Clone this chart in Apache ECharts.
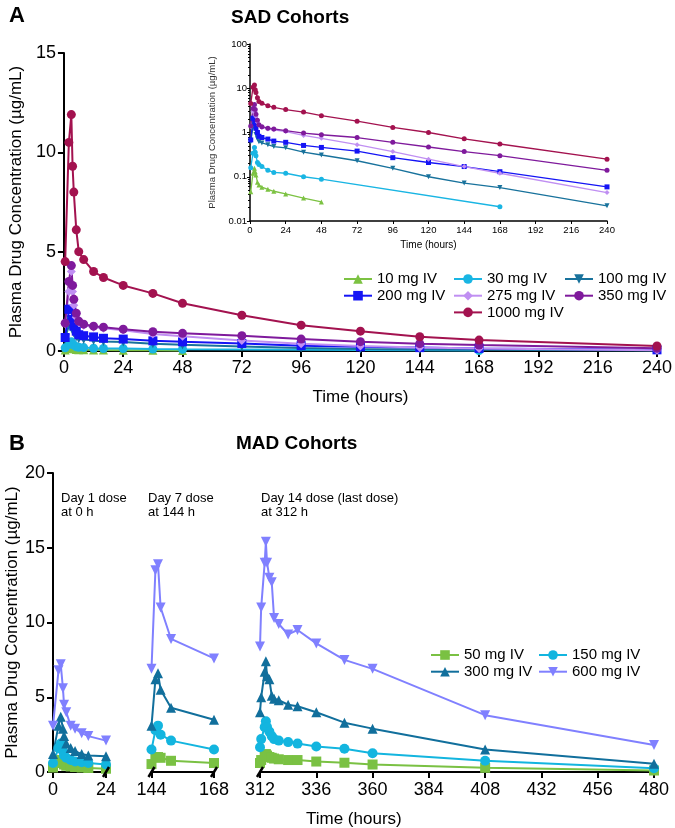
<!DOCTYPE html>
<html>
<head>
<meta charset="utf-8">
<script src="https://cdn.jsdelivr.net/npm/echarts@6/dist/echarts.min.js"></script>
<style>
  html, body { margin: 0; padding: 0; background: #fff; }
  #chart { width: 675px; height: 828px; }
</style>
</head>
<body>
<div id="chart"></div>
<script>
// ---- SAD cohorts (panel A), hours after dose ----
var sadTimes = [0.5, 2, 3, 3.5, 4, 5, 6, 8, 12, 16, 24, 36, 48, 72, 96, 120, 144, 168, 240];
var sad10   = [0.046, 0.12, 0.155, 0.13, 0.11, 0.075, 0.065, 0.058, 0.052, 0.047, 0.041, 0.033, 0.027, null, null, null, null, null, null];
var sad30   = [0.16, 0.34, 0.46, 0.36, 0.30, 0.21, 0.19, 0.17, 0.14, 0.125, 0.12, 0.10, 0.088, null, null, null, null, 0.021, null];
var sad100  = [0.62, 1.3, 1.5, 1.2, 0.9, 0.72, 0.62, 0.58, 0.53, 0.48, 0.45, 0.36, 0.31, 0.23, 0.155, 0.10, 0.072, 0.057, 0.022];
var sad200  = [0.68, 2.1, 2.1, 1.6, 1.25, 1.0, 0.82, 0.77, 0.71, 0.64, 0.60, 0.51, 0.46, 0.38, 0.27, 0.21, 0.17, 0.13, 0.059];
var sad275  = [1.37, 3.0, 4.0, 3.0, 2.3, 1.7, 1.45, 1.3, 1.2, 1.15, 1.05, 0.86, 0.74, 0.53, 0.37, 0.25, 0.17, 0.12, 0.044];
var sad350  = [1.4, 3.5, 4.3, 3.3, 2.6, 1.9, 1.5, 1.35, 1.25, 1.2, 1.1, 0.97, 0.89, 0.77, 0.60, 0.47, 0.37, 0.30, 0.14];
var sad1000 = [4.5, 10.5, 11.9, 9.3, 8.0, 6.1, 5.0, 4.6, 4.0, 3.7, 3.3, 2.9, 2.4, 1.8, 1.3, 1.0, 0.72, 0.55, 0.25];

// ---- MAD cohorts (panel B), three dosing windows ----
var madTimes1 = [0, 2.5, 3.5, 4.5, 5, 6, 8, 10, 13, 16, 24];
var madTimes2 = [144, 145.5, 146.5, 147.5, 151.5, 168];
var madTimes3 = [312, 312.5, 314, 314.5, 315, 316, 317, 318, 320, 324, 328, 336, 348, 360, 408, 480];

var mad50  = [[0.3, 0.65, 0.8, 0.6, 0.5, 0.42, 0.37, 0.33, 0.3, 0.27, 0.22],
              [0.53, 1.0, 1.0, 0.95, 0.75, 0.6],
              [0.6, 0.8, 1.1, 1.2, 1.1, 1.0, 0.95, 0.9, 0.85, 0.8, 0.8, 0.7, 0.62, 0.5, 0.28, 0.1]];
var mad150 = [[0.6, 1.6, 1.9, 1.4, 1.1, 0.95, 0.8, 0.7, 0.65, 0.6, 0.5],
              [1.5, 2.8, 3.1, 2.5, 2.1, 1.5],
              [1.65, 2.2, 3.0, 3.4, 3.0, 2.7, 2.4, 2.2, 2.1, 2.0, 1.9, 1.7, 1.55, 1.25, 0.75, 0.25]];
var mad300 = [[1.2, 3.1, 3.7, 2.9, 2.4, 1.9, 1.6, 1.4, 1.2, 1.1, 1.05],
              [3.1, 6.2, 6.6, 5.5, 4.3, 3.5],
              [4.0, 5.0, 6.7, 7.4, 6.4, 6.2, 5.1, 4.9, 4.8, 4.5, 4.4, 4.0, 3.3, 2.9, 1.5, 0.55]];
var mad600 = [[3.1, 6.8, 7.2, 5.6, 4.5, 4.0, 3.1, 2.9, 2.6, 2.4, 2.1],
              [6.9, 13.5, 13.9, 11.0, 8.9, 7.6],
              [8.4, 11.0, 14.0, 15.4, 14.0, 13.0, 12.7, 10.3, 9.9, 9.2, 9.5, 8.6, 7.5, 6.9, 3.8, 1.8]];

var madWindows = [madTimes1, madTimes2, madTimes3];
var madAxisMin = [0, 144, 312];
var madAxisMax = [24, 168, 480];

var font = 'Liberation Sans, Arial, Helvetica, sans-serif';

var sadCohorts = [
    { name: '10 mg IV',   color: '#7cc242', symbol: 'triangle', rotate: 0,   values: sad10 },
    { name: '30 mg IV',   color: '#19b5e3', symbol: 'circle',   rotate: 0,   values: sad30 },
    { name: '100 mg IV',  color: '#18729c', symbol: 'triangle', rotate: 180, values: sad100 },
    { name: '200 mg IV',  color: '#1414f5', symbol: 'rect',     rotate: 0,   values: sad200 },
    { name: '275 mg IV',  color: '#c08ff2', symbol: 'diamond',  rotate: 0,   values: sad275 },
    { name: '350 mg IV',  color: '#7f1a9c', symbol: 'circle',   rotate: 0,   values: sad350 },
    { name: '1000 mg IV', color: '#a3124f', symbol: 'circle',   rotate: 0,   values: sad1000 }
];
var madCohorts = [
    { name: '50 mg IV',  color: '#7ac143', symbol: 'rect',     rotate: 0,   values: mad50 },
    { name: '150 mg IV', color: '#13b5df', symbol: 'circle',   rotate: 0,   values: mad150 },
    { name: '300 mg IV', color: '#116f9c', symbol: 'triangle', rotate: 0,   values: mad300 },
    { name: '600 mg IV', color: '#8080ff', symbol: 'triangle', rotate: 180, values: mad600 }
];

function pairs(times, values) {
    return times.map(function (t, i) { return [t, values[i]]; })
                .filter(function (d) { return d[1] != null; });
}

var series = [];
// main (linear) panel A
sadCohorts.forEach(function (c) {
    series.push({
        name: c.name, type: 'line', xAxisIndex: 0, yAxisIndex: 0,
        data: pairs(sadTimes, c.values),
        symbol: c.symbol, symbolRotate: c.rotate, symbolSize: 9,
        lineStyle: { color: c.color, width: 2 },
        itemStyle: { color: c.color }
    });
});
// inset (log) panel A
sadCohorts.forEach(function (c) {
    series.push({
        name: c.name, type: 'line', xAxisIndex: 1, yAxisIndex: 1,
        data: pairs(sadTimes, c.values),
        symbol: c.symbol, symbolRotate: c.rotate, symbolSize: 5,
        lineStyle: { color: c.color, width: 1.3 },
        itemStyle: { color: c.color }
    });
});
// panel B, one series per dosing window
madCohorts.forEach(function (c) {
    madWindows.forEach(function (times, k) {
        series.push({
            name: c.name, type: 'line', xAxisIndex: 2 + k, yAxisIndex: 2 + k,
            data: pairs(times, c.values[k]),
            symbol: c.symbol, symbolRotate: c.rotate, symbolSize: 10,
            lineStyle: { color: c.color, width: 2 },
            itemStyle: { color: c.color }
        });
    });
});

var bigLabel = { fontSize: 18, color: '#000', fontFamily: font };
var bigName = { fontSize: 17, color: '#000', fontFamily: font };
var blackLine = { color: '#000', width: 2 };

var xAxes = [
    { gridIndex: 0, type: 'value', min: 0, max: 240, interval: 24,
      axisLine: { lineStyle: blackLine }, axisTick: { length: 6, lineStyle: blackLine },
      axisLabel: Object.assign({ margin: 8 }, bigLabel), splitLine: { show: false },
      name: 'Time (hours)', nameLocation: 'middle', nameGap: 38, nameTextStyle: bigName },
    { gridIndex: 1, type: 'value', min: 0, max: 240, interval: 24,
      axisLine: { lineStyle: { color: '#000', width: 1.5 } }, axisTick: { length: 3, lineStyle: { color: '#000' } },
      axisLabel: { fontSize: 9.5, color: '#000', margin: 4, fontFamily: font }, splitLine: { show: false },
      name: 'Time (hours)', nameLocation: 'middle', nameGap: 19,
      nameTextStyle: { fontSize: 10, color: '#000', fontFamily: font } }
];
var yAxes = [
    { gridIndex: 0, type: 'value', min: 0, max: 15, interval: 5,
      axisLine: { show: true, lineStyle: blackLine }, axisTick: { show: true, length: 6, lineStyle: blackLine },
      axisLabel: Object.assign({ margin: 8 }, bigLabel), splitLine: { show: false },
      name: 'Plasma Drug Concentration (µg/mL)', nameLocation: 'middle', nameGap: 36, nameTextStyle: bigName },
    { gridIndex: 1, type: 'log', logBase: 10, min: 0.01, max: 100,
      axisLine: { show: true, lineStyle: { color: '#000', width: 1.5 } },
      axisTick: { show: true, length: 3, lineStyle: { color: '#000' } },
      minorTick: { show: true, splitNumber: 9, length: 2, lineStyle: { color: '#000' } },
      axisLabel: { fontSize: 9.5, color: '#000', margin: 3, fontFamily: font }, splitLine: { show: false },
      name: 'Plasma Drug Concentration (µg/mL)', nameLocation: 'middle', nameGap: 26,
      nameTextStyle: { fontSize: 9.5, color: '#333', fontFamily: font } }
];
var grids = [
    { left: 62, top: 53, width: 600, height: 298 },
    { left: 250, top: 44, width: 357, height: 177 }
];
var madGridLeft = [53, 151.5, 260];
var madGridWidth = [53, 62.5, 394];
madWindows.forEach(function (times, k) {
    grids.push({ left: madGridLeft[k], top: 473, width: madGridWidth[k], height: 299 });
    xAxes.push({ gridIndex: 2 + k, type: 'value', min: madAxisMin[k], max: madAxisMax[k], interval: 24,
        axisLine: { lineStyle: blackLine }, axisTick: { length: 6, lineStyle: blackLine },
        axisLabel: Object.assign({ margin: 9 }, bigLabel), splitLine: { show: false } });
    yAxes.push(k === 0 ?
        { gridIndex: 2, type: 'value', min: 0, max: 20, interval: 5,
          axisLine: { show: true, lineStyle: blackLine }, axisTick: { show: true, length: 6, lineStyle: blackLine },
          axisLabel: Object.assign({ margin: 8 }, bigLabel), splitLine: { show: false },
          name: 'Plasma Drug Concentration (µg/mL)', nameLocation: 'middle', nameGap: 28, nameTextStyle: bigName } :
        { gridIndex: 2 + k, type: 'value', min: 0, max: 20, show: false, splitLine: { show: false } });
});

function legendCol(left, top, names) {
    return {
        orient: 'vertical', left: left, top: top, data: names,
        itemWidth: 28, itemHeight: 12, itemGap: 0.7, selectedMode: false,
        textStyle: { fontSize: 15, color: '#000', fontFamily: font, lineHeight: 16 }
    };
}

var titleText = { color: '#000', fontFamily: font };
var noteStyle = { fontSize: 13, color: '#000', fontFamily: font, fontWeight: 'normal', lineHeight: 14 };

var chart = echarts.init(document.getElementById('chart'));
chart.setOption({
    animation: false,
    backgroundColor: '#fff',
    title: [
        { text: 'A', left: 4, top: 0, textStyle: Object.assign({ fontSize: 22, fontWeight: 'bold' }, titleText) },
        { text: 'SAD Cohorts', left: 226, top: 3, textStyle: Object.assign({ fontSize: 19, fontWeight: 'bold' }, titleText) },
        { text: 'B', left: 4, top: 428, textStyle: Object.assign({ fontSize: 22, fontWeight: 'bold' }, titleText) },
        { text: 'MAD Cohorts', left: 231, top: 429, textStyle: Object.assign({ fontSize: 19, fontWeight: 'bold' }, titleText) },
        { text: 'Time (hours)', left: 306, top: 811, padding: 0, textStyle: Object.assign({ fontSize: 17, fontWeight: 'normal' }, titleText) },
        { text: 'Day 1 dose\nat 0 h', left: 61, top: 491, padding: 0, textStyle: noteStyle },
        { text: 'Day 7 dose\nat 144 h', left: 148, top: 491, padding: 0, textStyle: noteStyle },
        { text: 'Day 14 dose (last dose)\nat 312 h', left: 261, top: 491, padding: 0, textStyle: noteStyle }
    ],
    legend: [
        legendCol(338, 266, ['10 mg IV', '200 mg IV']),
        legendCol(448, 266, ['30 mg IV', '275 mg IV', '1000 mg IV']),
        legendCol(559, 266, ['100 mg IV', '350 mg IV']),
        legendCol(425, 642, ['50 mg IV', '300 mg IV']),
        legendCol(533, 642, ['150 mg IV', '600 mg IV'])
    ],
    grid: grids,
    xAxis: xAxes,
    yAxis: yAxes,
    series: series
});

// break marks on the segmented time axis of panel B
var breaks = [];
[[2, 24], [3, 144], [3, 168], [4, 312]].forEach(function (b) {
    var p = chart.convertToPixel({ xAxisIndex: b[0], yAxisIndex: b[0] }, [b[1], 0]);
    breaks.push({ type: 'line', shape: { x1: p[0] - 3, y1: p[1] + 5, x2: p[0] + 3, y2: p[1] - 5 },
                  style: { stroke: '#000', lineWidth: 2.5 }, z: 10 });
});
chart.setOption({ graphic: breaks });
</script>
</body>
</html>
